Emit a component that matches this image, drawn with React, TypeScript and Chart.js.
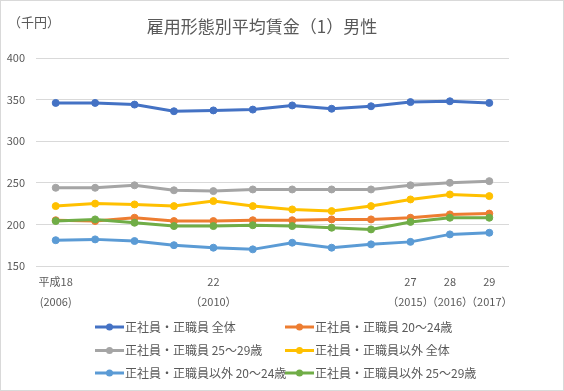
import React, { useEffect, useRef } from "react";
import { Chart, registerables } from "chart.js";
Chart.register(...registerables);

const categories: (string | string[])[] = [
  ["平成18", "(2006)"], "", "", "", ["22", "（2010）"], "", "", "", "",
  ["27", "（2015）"], ["28", "（2016）"], ["29", "（2017）"],
];

const seriesLabels = [
  "正社員・正職員 全体",
  "正社員・正職員 20～24歳",
  "正社員・正職員 25～29歳",
  "正社員・正職員以外 全体",
  "正社員・正職員以外 20～24歳",
  "正社員・正職員以外 25～29歳",
];

const regularAll = [346, 346, 344, 336, 337, 338, 343, 339, 342, 347, 348, 346];
const regular2024 = [205, 204, 208, 204, 204, 205, 205, 206, 206, 208, 212, 213];
const regular2529 = [244, 244, 247, 241, 240, 242, 242, 242, 242, 247, 250, 252];
const nonRegularAll = [222, 225, 224, 222, 228, 222, 218, 216, 222, 230, 236, 234];
const nonRegular2024 = [181, 182, 180, 175, 172, 170, 178, 172, 176, 179, 188, 190];
const nonRegular2529 = [204, 206, 202, 198, 198, 199, 198, 196, 194, 203, 208, 208];

const seriesData = [regularAll, regular2024, regular2529, nonRegularAll, nonRegular2024, nonRegular2529];
const colors = ["#4472C4", "#ED7D31", "#A5A5A5", "#FFC000", "#5B9BD5", "#70AD47"];

const titleText = "雇用形態別平均賃金（1）男性";
const unitText = "（千円）";
const FONT = "'Noto Sans CJK JP', 'Noto Sans', sans-serif";
const TEXT_COLOR = "#595959";

export default function App() {
  const ref = useRef<HTMLCanvasElement>(null);
  useEffect(() => {
    document.body.style.margin = "0";
    const textPlugin = {
      id: "textPlugin",
      afterDraw(chart: any) {
        const ctx = chart.ctx;
        ctx.save();
        ctx.fillStyle = TEXT_COLOR;
        ctx.textBaseline = "middle";
        ctx.font = `17px ${FONT}`;
        ctx.textAlign = "center";
        ctx.fillText(titleText, 261, 26);
        ctx.font = `13px ${FONT}`;
        ctx.textAlign = "left";
        ctx.fillText(unitText, 7, 21);
        // legend
        const rows = [326, 349.5, 372];
        const cols = [94, 284];
        ctx.font = `12px ${FONT}`;
        chart.data.datasets.forEach((ds: any, i: number) => {
          const r = Math.floor(i / 2);
          const c = i % 2;
          const x = cols[c];
          const y = rows[r];
          ctx.strokeStyle = ds.borderColor;
          ctx.lineWidth = 3;
          ctx.beginPath();
          ctx.moveTo(x, y);
          ctx.lineTo(x + 29, y);
          ctx.stroke();
          ctx.fillStyle = ds.borderColor;
          ctx.beginPath();
          ctx.arc(x + 14.5, y, 3.5, 0, Math.PI * 2);
          ctx.fill();
          ctx.fillStyle = TEXT_COLOR;
          ctx.textAlign = "left";
          ctx.fillText(ds.label, x + 30, y);
        });
        ctx.restore();
      },
    };
    const chart = new Chart(ref.current!, {
      type: "line",
      data: {
        labels: categories,
        datasets: seriesData.map((d, i) => ({
          label: seriesLabels[i],
          data: d,
          borderColor: colors[i],
          backgroundColor: colors[i],
          borderWidth: 3,
          pointRadius: 3.5,
          pointBorderWidth: 1,
          pointBackgroundColor: colors[i],
          pointBorderColor: colors[i],
          tension: 0,
          order: 6 - i,
        })),
      },
      options: {
        responsive: false,
        animation: false,
        layout: { padding: { top: 57, right: 54, bottom: 74, left: 0 } },
        plugins: {
          legend: { display: false },
          title: { display: false },
          tooltip: { enabled: false },
        },
        scales: {
          x: {
            offset: true,
            grid: { display: false },
            border: { display: false },
            ticks: {
              autoSkip: false,
              maxRotation: 0,
              minRotation: 0,
              padding: -2,
              color: TEXT_COLOR,
              font: { family: FONT, size: 11, lineHeight: 20 / 11 },
            },
            afterFit: (scale: any) => { scale.height = 50; },
          },
          y: {
            min: 150,
            max: 400,
            ticks: {
              stepSize: 50,
              padding: 11,
              color: TEXT_COLOR,
              font: { family: FONT, size: 11 },
            },
            grid: { color: "#d9d9d9", drawTicks: false, lineWidth: 1 },
            border: { display: false },
            afterFit: (scale: any) => { scale.width = 35; },
          },
        },
      },
      plugins: [textPlugin],
    });
    return () => chart.destroy();
  }, []);
  return (
    <div style={{ width: 564, height: 391, boxSizing: "border-box", border: "1px solid #d9d9d9", background: "#fff" }}>
      <canvas ref={ref} width={562} height={389} style={{ display: "block" }} />
    </div>
  );
}
